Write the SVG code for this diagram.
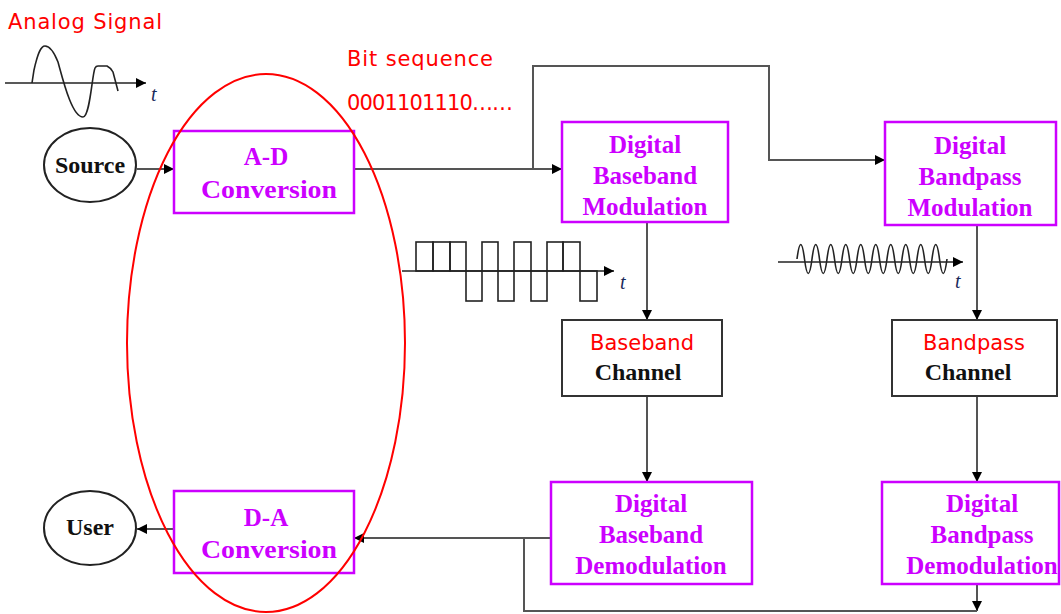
<svg xmlns="http://www.w3.org/2000/svg" width="1061" height="614" viewBox="0 0 1061 614">
<style>
.box{fill:#fff;stroke:#cc00ff;stroke-width:2.5}
.ch{fill:#fff;stroke:#333;stroke-width:2}
.ell{fill:#fff;stroke:#222;stroke-width:2}
.mt{font-family:"Liberation Serif",serif;font-weight:bold;font-size:25px;fill:#cc00ff;text-anchor:middle}
.bt{font-family:"Liberation Serif",serif;font-weight:bold;font-size:24px;fill:#111;text-anchor:middle}
.rt{font-family:"Comic Sans MS","DejaVu Sans",sans-serif;font-size:21px;fill:#ff0000}
.conn{fill:none;stroke:#555;stroke-width:2}
.wave{fill:none;stroke:#222;stroke-width:1.6}
.tt{font-family:"Liberation Serif",serif;font-style:italic;font-size:20px;fill:#1a2a5a}
</style>
<defs>
<marker id="ah" viewBox="0 0 10 10" refX="10" refY="5" markerWidth="10" markerHeight="10" markerUnits="userSpaceOnUse" orient="auto">
<path d="M0,0 L10,5 L0,10 z" fill="#000"/>
</marker>
</defs>

<g id="labels">
<text class="rt" x="8" y="29" textLength="154">Analog Signal</text>
<text class="rt" x="347" y="66" textLength="146">Bit sequence</text>
<text class="rt" x="347" y="110" textLength="166">0001101110……</text>
</g>

<g id="analog-wave">
<path class="wave" d="M5 83 H146" marker-end="url(#ah)"/>
<path class="wave" d="M32 83 L34 70 C38 52 41 46 45 46 C50 46 54 52 58 62 C63 80 72 117 83 117 C90 117 92 75 95 68 C96 66 97 66 98 66 L107 66 C109 67 111 68 113 72 L118 91"/>
<text class="tt" x="151" y="101">t</text>
</g>

<g id="square-wave">
<path class="wave" d="M402 271 H614" marker-end="url(#ah)"/>
<g class="wave">
<rect x="416" y="242" width="17" height="29"/>
<rect x="433" y="242" width="17" height="29"/>
<rect x="450" y="242" width="16" height="29"/>
<rect x="466" y="271" width="16" height="30"/>
<rect x="482" y="242" width="16" height="29"/>
<rect x="498" y="271" width="16" height="30"/>
<rect x="514" y="242" width="17" height="29"/>
<rect x="531" y="271" width="16" height="30"/>
<rect x="547" y="242" width="16" height="29"/>
<rect x="563" y="242" width="17" height="29"/>
<rect x="580" y="271" width="17" height="30"/>
</g>
<text class="tt" x="620" y="289">t</text>
</g>

<g id="sine-wave">
<path class="wave" d="M778 262 H963" marker-end="url(#ah)"/>
<path class="wave" d="M797 259 q3.75 -29 7.5 0 q3.75 29 7.5 0 q3.75 -29 7.5 0 q3.75 29 7.5 0 q3.75 -29 7.5 0 q3.75 29 7.5 0 q3.75 -29 7.5 0 q3.75 29 7.5 0 q3.75 -29 7.5 0 q3.75 29 7.5 0 q3.75 -29 7.5 0 q3.75 29 7.5 0 q3.75 -29 7.5 0 q3.75 29 7.5 0 q3.75 -29 7.5 0 q3.75 29 7.5 0 q3.75 -29 7.5 0 q3.75 29 7.5 0 q3.75 -29 7.5 0 q3.75 29 7.5 0"/>
<text class="tt" x="955" y="288">t</text>
</g>

<g id="connectors">
<path class="conn" d="M137 169 H174" marker-end="url(#ah)"/>
<path class="conn" d="M354 169 H562" marker-end="url(#ah)"/>
<path class="conn" d="M533 169 V66 H769 V160 H885" marker-end="url(#ah)"/>
<path class="conn" d="M647 222 V320" marker-end="url(#ah)"/>
<path class="conn" d="M647 396 V482" marker-end="url(#ah)"/>
<path class="conn" d="M977 225 V320" marker-end="url(#ah)"/>
<path class="conn" d="M977 396 V482" marker-end="url(#ah)"/>
<path class="conn" d="M977 584 V611" marker-end="url(#ah)"/>
<path class="conn" d="M977 611 H524 V538"/>
<path class="conn" d="M551 538 H354" marker-end="url(#ah)"/>
<path class="conn" d="M174 529 H137" marker-end="url(#ah)"/>
</g>

<g id="source">
<ellipse class="ell" cx="90" cy="165" rx="46" ry="37"/>
<text class="bt" x="90" y="173">Source</text>
</g>

<g id="user">
<ellipse class="ell" cx="90" cy="528" rx="46" ry="37"/>
<text class="bt" x="90" y="535">User</text>
</g>

<g id="ad-conversion">
<rect class="box" x="174" y="131" width="180" height="82"/>
<text class="mt" x="266" y="165">A-D</text>
<text class="mt" x="269" y="198" textLength="136" lengthAdjust="spacingAndGlyphs">Conversion</text>
</g>

<g id="da-conversion">
<rect class="box" x="174" y="491" width="180" height="82"/>
<text class="mt" x="266" y="526">D-A</text>
<text class="mt" x="269" y="558" textLength="136" lengthAdjust="spacingAndGlyphs">Conversion</text>
</g>

<g id="baseband-mod">
<rect class="box" x="562" y="122" width="166" height="100"/>
<text class="mt" x="645" y="153">Digital</text>
<text class="mt" x="645" y="184">Baseband</text>
<text class="mt" x="645" y="215">Modulation</text>
</g>

<g id="bandpass-mod">
<rect class="box" x="885" y="122" width="171" height="103"/>
<text class="mt" x="970" y="154">Digital</text>
<text class="mt" x="970" y="185">Bandpass</text>
<text class="mt" x="970" y="216">Modulation</text>
</g>

<g id="baseband-channel">
<rect class="ch" x="562" y="320" width="160" height="76"/>
<text class="rt" x="642" y="350" text-anchor="middle" font-size="22">Baseband</text>
<text class="bt" x="638" y="380">Channel</text>
</g>

<g id="bandpass-channel">
<rect class="ch" x="892" y="320" width="165" height="76"/>
<text class="rt" x="974" y="350" text-anchor="middle" font-size="22">Bandpass</text>
<text class="bt" x="968" y="380">Channel</text>
</g>

<g id="baseband-demod">
<rect class="box" x="551" y="482" width="201" height="102"/>
<text class="mt" x="651" y="512">Digital</text>
<text class="mt" x="651" y="543">Baseband</text>
<text class="mt" x="651" y="574">Demodulation</text>
</g>

<g id="bandpass-demod">
<rect class="box" x="882" y="482" width="177" height="102"/>
<text class="mt" x="982" y="512">Digital</text>
<text class="mt" x="982" y="543">Bandpass</text>
<text class="mt" x="982" y="574">Demodulation</text>
</g>

<g id="highlight">
<ellipse cx="266" cy="343" rx="139" ry="269" fill="none" stroke="#ff0000" stroke-width="2"/>
</g>
</svg>
